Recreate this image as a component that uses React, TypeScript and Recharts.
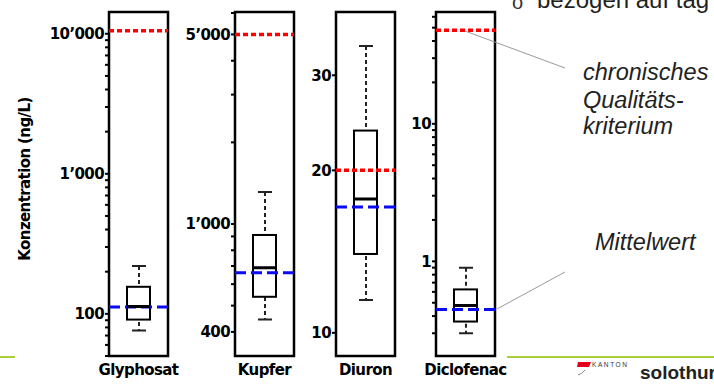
import React from 'react';
import {
  ComposedChart,
  Bar,
  Scatter,
  XAxis,
  YAxis,
  ReferenceLine,
  ReferenceArea,
} from 'recharts';

// values (ng/L)
const substances = ['Glyphosat', 'Kupfer', 'Diuron', 'Diclofenac'];
const whiskerLow = [76, 444, 11.5, 0.3];
const boxLow = [91, 539, 14.0, 0.365];
const medians = [113, 690, 17.7, 0.477];
const boxHigh = [156, 911, 23.7, 0.625];
const whiskerHigh = [220, 1311, 34.0, 0.9];
const means = [112, 661, 17.1, 0.446];
const qualityCriteria = [10500, 5000, 20, 47.8];

// axis ranges and ticks per panel
const domains: [number, number][] = [
  [50, 14300],
  [326, 6050],
  [9.06, 39.3],
  [0.205, 65],
];
const minorTicks = [
  [50, 60, 70, 80, 90, 100, 200, 300, 400, 500, 600, 700, 800, 900, 1000, 2000, 3000, 4000, 5000, 6000, 7000, 8000, 9000, 10000],
  [400, 500, 600, 700, 800, 900, 1000, 2000, 3000, 4000, 5000, 6000],
  [10, 20, 30],
  [0.3, 0.4, 0.5, 0.6, 0.7, 0.8, 0.9, 1, 2, 3, 4, 5, 6, 7, 8, 9, 10, 20, 30, 40, 50, 60],
];
const majorTicks = [
  [100, 1000, 10000],
  [400, 1000, 5000],
  [10, 20, 30],
  [1, 10],
];
const majorLabels = [
  ['100', '1’000', '10’000'],
  ['400', '1’000', '5’000'],
  ['10', '20', '30'],
  ['1', '10'],
];

const panels = [
  { left: 0, axisW: 109 },
  { left: 175, axisW: 60 },
  { left: 300, axisW: 36 },
  { left: 400, axisW: 36 },
];

const boldFont = "'DejaVu Sans', sans-serif";
const textFont = "'Liberation Sans', Arial, sans-serif";
const PLOT_W = 59;
const EXTRA_R = 40;

const WhiskerShape = (props: any) => {
  const { x, y, width, height } = props;
  const top = Math.min(y, y + height);
  const bottom = Math.max(y, y + height);
  const cx = x + width / 2;
  return (
    <g>
      <line x1={cx} x2={cx} y1={top} y2={bottom} stroke="#222" strokeWidth={2} strokeDasharray="4 3" />
      <line x1={cx - 7} x2={cx + 7} y1={top} y2={top} stroke="#222" strokeWidth={2} />
      <line x1={cx - 7} x2={cx + 7} y1={bottom} y2={bottom} stroke="#222" strokeWidth={2} />
    </g>
  );
};

const BoxShape = (props: any) => {
  const { x, y, width, height } = props;
  const top = Math.min(y, y + height);
  return <rect x={x} y={top} width={width} height={Math.abs(height)} fill="#fff" stroke="#000" strokeWidth={2} />;
};

const MedianShape = (props: any) => {
  const { cx, cy } = props;
  return <line x1={cx - 11.5} x2={cx + 11.5} y1={cy} y2={cy} stroke="#000" strokeWidth={3} />;
};

function Panel({ i }: { i: number }) {
  const data = [
    {
      name: substances[i],
      whisker: [whiskerLow[i], whiskerHigh[i]],
      box: [boxLow[i], boxHigh[i]],
      median: medians[i],
    },
  ];
  const { left, axisW } = panels[i];
  const fmt = (v: number) => {
    const k = majorTicks[i].indexOf(v);
    return k >= 0 ? majorLabels[i][k] : '';
  };
  return (
    <div style={{ position: 'absolute', left, top: 0 }}>
      <ComposedChart
        width={axisW + PLOT_W + EXTRA_R}
        height={387}
        data={data}
        margin={{ top: 12, right: EXTRA_R, bottom: 0, left: 0 }}
      >
        <XAxis
          xAxisId="box"
          dataKey="name"
          type="category"
          height={31}
          axisLine={false}
          tickLine={false}
          tickSize={0}
          tickMargin={8}
          tick={{ fill: '#000', fontSize: 15, fontWeight: 700, fontFamily: boldFont, letterSpacing: -0.6 }}
        />
        <XAxis xAxisId="wh" dataKey="name" type="category" hide />
        <YAxis
          scale="log"
          domain={domains[i]}
          allowDataOverflow
          ticks={minorTicks[i]}
          interval={0}
          width={axisW}
          tickFormatter={fmt}
          axisLine={false}
          tickSize={4}
          tickMargin={1}
          tickLine={{ stroke: '#000', strokeWidth: 2 }}
          tick={{ fill: '#000', fontSize: 15, fontWeight: 700, fontFamily: boldFont, letterSpacing: -0.6 }}
        />
        <Bar xAxisId="wh" dataKey="whisker" barSize={14} shape={WhiskerShape} isAnimationActive={false} />
        <Bar xAxisId="box" dataKey="box" barSize={23} shape={BoxShape} isAnimationActive={false} />
        <Scatter xAxisId="box" dataKey="median" shape={MedianShape} isAnimationActive={false} />
        <ReferenceLine xAxisId="box" y={means[i]} stroke="#0a0af5" strokeWidth={3} strokeDasharray="11 5" />
        <ReferenceLine xAxisId="box" y={qualityCriteria[i]} stroke="#ff0000" strokeWidth={3.5} strokeDasharray="5 3" />
        <ReferenceArea
          xAxisId="box"
          y1={domains[i][0]}
          y2={domains[i][1]}
          fill="none"
          stroke="#000"
          strokeWidth={2.5}
        />
      </ComposedChart>
    </div>
  );
}

export default function App() {
  return (
    <div
      style={{
        position: 'absolute',
        left: 0,
        top: 0,
        width: 714,
        height: 387,
        overflow: 'hidden',
        background: '#fff',
      }}
    >
      <svg width={714} height={387} style={{ position: 'absolute', left: 0, top: 0 }}>
        <line x1={0} x2={15} y1={357} y2={357} stroke="#a8cf3c" strokeWidth={2} />
        <line x1={507} x2={714} y1={357} y2={357} stroke="#a8cf3c" strokeWidth={2} />
      </svg>
      {substances.map((_, i) => (
        <Panel key={i} i={i} />
      ))}
      <svg width={714} height={387} style={{ position: 'absolute', left: 0, top: 0, pointerEvents: 'none' }}>
        <text
          transform="translate(25 179) rotate(-90)"
          textAnchor="middle"
          dominantBaseline="central"
          fontFamily={boldFont}
          fontWeight={700}
          fontSize={15}
          letterSpacing={-0.6}
          fill="#000"
        >
          Konzentration (ng/L)
        </text>

        <text x={512} y={9} fontFamily={textFont} fontSize={20} fill="#333">o</text>
        <text x={537} y={8} fontFamily={textFont} fontSize={24} fill="#222">bezogen auf tag</text>

        <line x1={465} y1={31} x2={565} y2={68} stroke="#9a9a9a" strokeWidth={1} />
        <line x1={497} y1={309} x2={565} y2={272} stroke="#9a9a9a" strokeWidth={1} />

        <g fontFamily={textFont} fontStyle="italic" fontSize={23.5} fill="#222">
          <text x={583} y={80}>chronisches</text>
          <text x={583} y={108}>Qualitäts-</text>
          <text x={583} y={134}>kriterium</text>
          <text x={595} y={250}>Mittelwert</text>
        </g>

        <path d="M578 362 L591 362 L589 367 L577 367 Z" fill="#e2001a" />
        <path d="M578 375 Q582 374 585 370" fill="none" stroke="#888" strokeWidth={1} />
        <text x={592} y={367} fontFamily={textFont} fontSize={6.5} letterSpacing={1.6} fill="#333">KANTON</text>
        <text x={640} y={379} fontFamily={textFont} fontWeight={700} fontSize={19} fill="#222">solothurn</text>
      </svg>
    </div>
  );
}
